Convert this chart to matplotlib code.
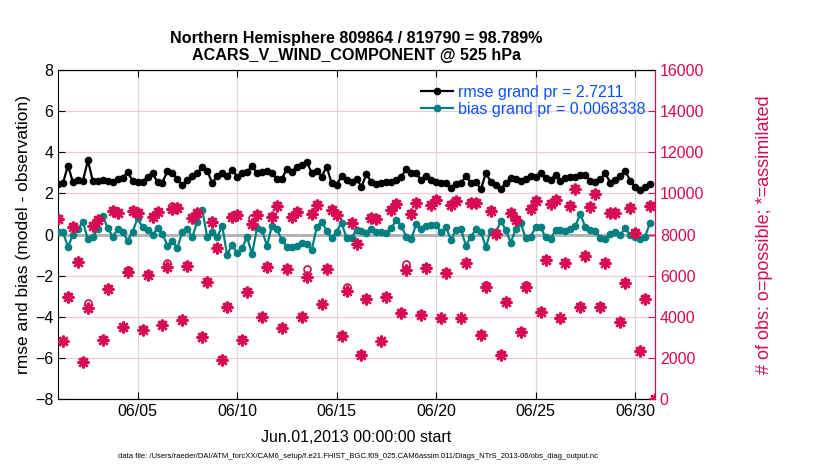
import matplotlib
matplotlib.use('Agg')
import matplotlib.pyplot as plt
import matplotlib.dates as mdates
import numpy as np

plt.rcParams['font.family'] = ['Liberation Sans', 'DejaVu Sans']

# 6-hourly bins starting Jun.01,2013 00:00
start = np.datetime64('2013-06-01T00:00')
nbins = 121
times = start + np.arange(nbins) * np.timedelta64(6, 'h')

rmse = [2.45, 2.5, 3.35, 2.55, 2.65, 2.6, 3.6, 2.6, 2.6, 2.65,
        2.6, 2.55, 2.7, 2.75, 3.05, 2.6, 2.57, 2.57, 2.82, 2.98,
        2.55, 2.52, 3.1, 3.0, 2.7, 2.4, 2.65, 2.85, 2.98, 3.3,
        3.1, 2.5, 2.85, 2.98, 2.85, 3.15, 2.82, 2.98, 3.05, 3.33,
        3.0, 3.05, 3.1, 2.98, 2.7, 2.7, 3.2, 3.05, 3.3, 3.38,
        3.55, 2.98, 3.1, 2.82, 3.3, 2.49, 2.41, 2.85, 2.65, 2.57,
        2.7, 2.33, 2.93, 2.55, 2.45, 2.5, 2.57, 2.57, 2.65, 2.8,
        3.2, 2.98, 2.98, 2.65, 2.85, 2.65, 2.57, 2.5, 2.5, 2.25,
        2.45, 2.49, 2.85, 2.52, 2.57, 2.2, 2.98, 2.57, 2.41, 2.2,
        2.52, 2.73, 2.68, 2.62, 2.68, 2.85, 2.82, 2.98, 2.73, 2.65,
        2.9, 2.62, 2.73, 2.82, 2.78, 2.9, 2.9, 2.62, 2.57, 2.68,
        2.98, 2.52, 2.65, 2.85, 3.11, 2.62, 2.33, 2.17, 2.33, 2.46, np.nan]

bias = [0.1, 0.14, -0.62, 0.0, 0.25, 0.63, -0.23, -0.1, 0.26, 0.9,
        0.3, -0.1, 0.25, 0.14, -0.31, 0.14, 0.79, 0.35, 0.22, -0.02,
        0.3, 0.03, -0.55, -0.33, -0.64, 0.14, 0.25, -0.13, 0.63, 1.19,
        -0.13, 0.1, -0.13, 0.42, -1.0, -0.5, -0.9, -0.67, -0.13, -0.95,
        0.3, 0.22, -0.55, 0.42, 0.25, -0.26, -0.59, -0.62, -0.55, -0.42,
        -0.46, -0.75, 0.35, 0.63, 0.19, -0.18, 0.14, 0.58, -0.18, -0.18,
        0.22, 0.19, 0.06, 0.25, 0.1, 0.1, 0.06, 0.3, 0.71, 0.42,
        -0.1, -0.23, 0.51, 0.25, 0.42, 0.47, 0.47, 0.1, 0.35, -0.26,
        0.22, 0.25, -0.55, -0.1, 0.25, 0.14, -0.62, 0.19, 0.06, 0.67,
        0.22, -0.39, 0.25, 0.55, -0.18, -0.1, 0.35, 0.35, -0.13, -0.23,
        0.22, 0.22, 0.19, 0.25, 0.42, 1.0, 0.35, 0.22, 0.19, -0.18,
        -0.23, 0.03, 0.1, -0.02, 0.3, -0.02, -0.1, -0.23, -0.1, 0.55, np.nan]

n_assim = [8750, 2800, 4950, 8350, 6680, 1820, 4420, 8420, 8710, 2870,
           5350, 9150, 9030, 3490, 6200, 9150, 9030, 3360, 6040, 8870,
           9110, 3600, 6440, 9240, 9300, 3850, 6470, 8790, 9030, 3030,
           5680, 8630, 7330, 1900, 4460, 8840, 8950, 2870, 5220, 8500,
           8950, 4000, 6440, 8840, 9390, 3450, 6310, 8870, 9110, 4000,
           5950, 9000, 9440, 4610, 6310, 9190, 8950, 3070, 5270, 8580,
           7540, 2140, 4850, 8790, 8740, 2800, 4950, 9190, 9490, 4200,
           6280, 9000, 9520, 4100, 6360, 9440, 9680, 3930, 6110, 9440,
           9620, 3930, 6600, 9520, 9520, 3120, 5470, 9160, 8030, 2140,
           4740, 9030, 8710, 3280, 5470, 9220, 9630, 4250, 6760, 9470,
           9680, 3930, 6630, 9390, 10200, 4490, 6960, 9320, 9970, 4490,
           6630, 9030, 9030, 3760, 5660, 9270, 8090, 2350, 4850, 9390, 0]

n_poss = [8790, 2830, 5000, 8400, 6720, 1850, 4650, 8470, 8760, 2900,
          5400, 9200, 9080, 3520, 6250, 9200, 9080, 3390, 6090, 8920,
          9160, 3630, 6620, 9400, 9350, 3880, 6520, 8840, 9110, 3060,
          5730, 8680, 7380, 1930, 4510, 8890, 9000, 2900, 5270, 8790,
          9000, 4030, 6490, 8890, 9440, 3480, 6360, 8920, 9160, 4030,
          6310, 9050, 9490, 4640, 6360, 9240, 9000, 3100, 5430, 8630,
          7590, 2170, 4900, 8840, 8790, 2830, 5000, 9240, 9540, 4230,
          6570, 9050, 9600, 4130, 6410, 9490, 9730, 3960, 6160, 9490,
          9670, 3960, 6650, 9570, 9570, 3150, 5520, 9210, 8080, 2170,
          4790, 9080, 8760, 3310, 5520, 9270, 9680, 4280, 6810, 9520,
          9730, 3960, 6680, 9440, 10250, 4520, 7010, 9370, 10020, 4520,
          6680, 9080, 9080, 3790, 5710, 9320, 8140, 2380, 4900, 9440, 0]

title_text = 'Northern Hemisphere 809864 / 819790 = 98.789%\nACARS_V_WIND_COMPONENT @ 525 hPa'
legend_labels = ['rmse grand pr = 2.7211', 'bias grand pr = 0.0068338']
footer = ('data file: /Users/raeder/DAI/ATM_forcXX/CAM6_setup/'
          'f.e21.FHIST_BGC.f09_025.CAM6assim.011/Diags_NTrS_2013-06/obs_diag_output.nc')

crimson = '#D70A53'
teal = '#008080'

fig = plt.figure(figsize=(8.3, 4.7), dpi=100)
ax = fig.add_axes([58/830, 71/470, 597/830, 329/470])
ax2 = ax.twinx()

# counts on the right axis
ax2.plot(times, n_assim, linestyle='none', marker=(8, 2, 0), markersize=8.5,
         markeredgewidth=1.7, color=crimson, zorder=3)
ax2.plot(times, n_poss, linestyle='none', marker='o', markersize=5,
         markeredgewidth=1.2, markerfacecolor='none', markeredgecolor=crimson, zorder=4)
ax2.set_ylim(0, 16000)
ax2.set_yticks(np.arange(0, 16001, 2000))
ax2.tick_params(axis='y', colors=crimson, labelsize=11.5, direction='in', length=5)
ax2.spines['right'].set_color(crimson)
ax2.spines['left'].set_visible(False)
ax2.set_ylabel('# of obs: o=possible; *=assimilated', color=crimson, fontsize=13, labelpad=37)

# rmse and bias on the left axis
ax.axhline(0, color='#b4b4b4', linewidth=2.2, zorder=1)
l1, = ax.plot(times, rmse, '-o', color='black', linewidth=1.6, markersize=4.5, zorder=5)
l2, = ax.plot(times, bias, '-o', color=teal, linewidth=1.6, markersize=4.5, zorder=5)
ax.set_ylim(-8, 8)
ax.set_yticks(np.arange(-8, 9, 2))
ax.set_xlim(np.datetime64('2013-06-01T00:00'), np.datetime64('2013-07-01T00:00'))
ax.set_xticks([np.datetime64('2013-06-%02d' % d) for d in (5, 10, 15, 20, 25, 30)])
ax.xaxis.set_major_formatter(mdates.DateFormatter('%m/%d'))
ax.tick_params(axis='both', labelsize=11.5, direction='in', length=5, top=True)
ax.xaxis.grid(True, color='#d9d9d9', linewidth=0.9)
ax.yaxis.grid(True, color='#f2c9d6', linewidth=0.9)
ax.set_axisbelow(True)
ax.set_ylabel('rmse and bias (model - observation)', fontsize=12.5, labelpad=3)
ax.set_xlabel('Jun.01,2013 00:00:00 start', fontsize=11.5, labelpad=8)
ax.set_title(title_text, fontsize=11.6, fontweight='bold', pad=7, linespacing=1.2)

leg = ax2.legend([l1, l2], legend_labels, loc='upper right', bbox_to_anchor=(1.0, 0.985),
                 frameon=False, fontsize=11.5, labelcolor='#0A50FF', handlelength=2.0,
                 handletextpad=0.3, borderaxespad=0.2, labelspacing=0.15)

fig.text(0.431, 0.026, footer, fontsize=5.5, ha='center')

fig.savefig('out.png', dpi=100)
